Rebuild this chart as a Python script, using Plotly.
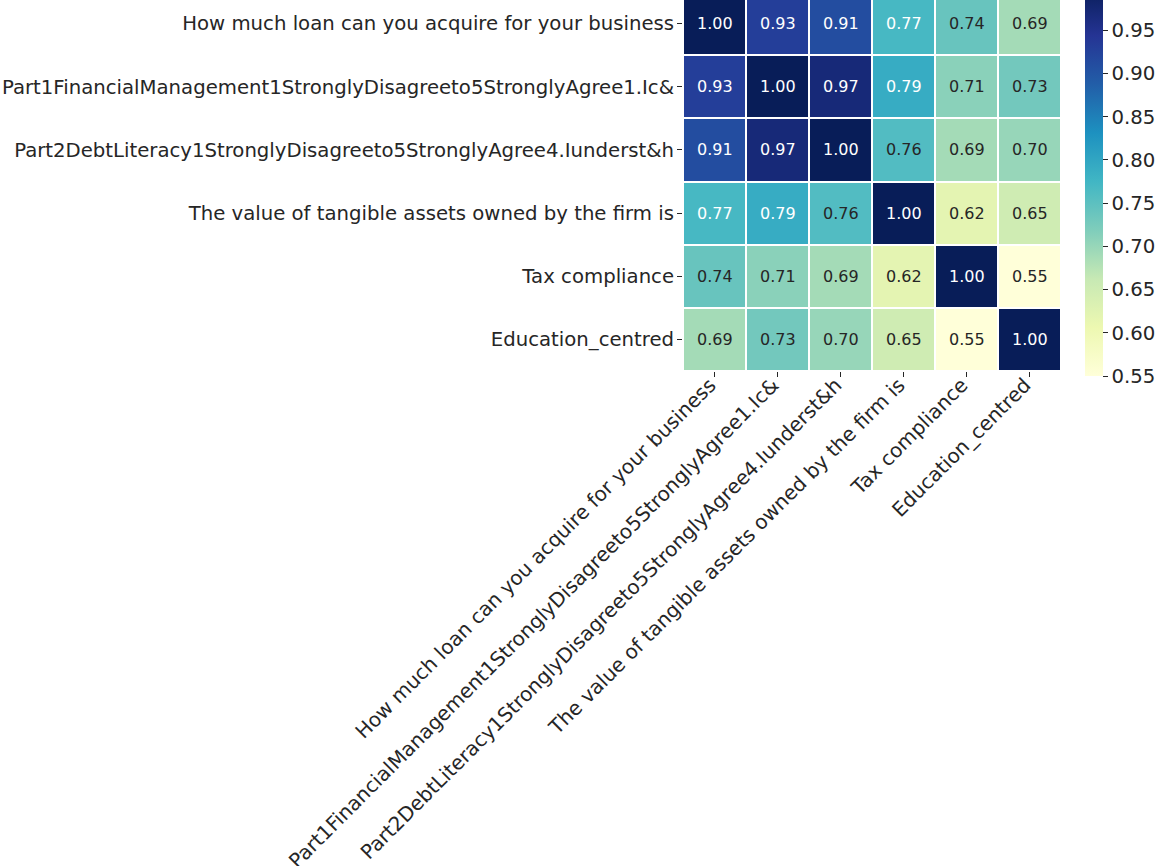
import plotly.graph_objects as go

# Variables in the correlation matrix (same order on both axes)
labels = [
    "How much loan can you acquire for your business",
    "Part1FinancialManagement1StronglyDisagreeto5StronglyAgree1.Ic&",
    "Part2DebtLiteracy1StronglyDisagreeto5StronglyAgree4.Iunderst&h",
    "The value of tangible assets owned by the firm is",
    "Tax compliance",
    "Education_centred",
]

# Pairwise correlation coefficients
corr = [
    [1.00, 0.93, 0.91, 0.77, 0.74, 0.69],
    [0.93, 1.00, 0.97, 0.79, 0.71, 0.73],
    [0.91, 0.97, 1.00, 0.76, 0.69, 0.70],
    [0.77, 0.79, 0.76, 1.00, 0.62, 0.65],
    [0.74, 0.71, 0.69, 0.62, 1.00, 0.55],
    [0.69, 0.73, 0.70, 0.65, 0.55, 1.00],
]

colorbar_ticks = [0.55, 0.60, 0.65, 0.70, 0.75, 0.80, 0.85, 0.90, 0.95]

# YlGnBu (ColorBrewer, 9 classes)
ylgnbu = ["#ffffd9", "#edf8b1", "#c7e9b4", "#7fcdbb", "#41b6c4",
          "#1d91c0", "#225ea8", "#253494", "#081d58"]
colorscale = [[i / (len(ylgnbu) - 1), c] for i, c in enumerate(ylgnbu)]

FONT = "DejaVu Sans"
DARK = "#262626"
LABEL_SIZE = 19.7

W, H = 1155, 866
left, right, top, bottom = 683, 94, 0, 495
plot_w = W - left - right
plot_h = H - top - bottom

fig = go.Figure(
    go.Heatmap(
        z=corr,
        x=labels,
        y=labels,
        zmin=0.55,
        zmax=1.0,
        colorscale=colorscale,
        xgap=2,
        ygap=2,
        colorbar=dict(
            thickness=18,
            lenmode="pixels",
            len=389,
            x=(1085 - left) / plot_w,
            xanchor="left",
            y=-5 / plot_h,
            yanchor="bottom",
            ypad=0,
            xpad=0,
            outlinewidth=0,
            tickmode="array",
            tickvals=colorbar_ticks,
            ticktext=[f"{v:.2f}" for v in colorbar_ticks],
            ticks="outside",
            ticklen=5,
            tickwidth=1,
            tickcolor=DARK,
            tickfont=dict(family=FONT, size=LABEL_SIZE, color=DARK),
        ),
        hoverinfo="skip",
    )
)

# Cell value labels: light text on dark cells
annotations = []
for i, row in enumerate(corr):
    for j, v in enumerate(row):
        annotations.append(
            dict(
                x=labels[j],
                y=labels[i],
                text=f"{v:.2f}",
                showarrow=False,
                font=dict(family=FONT, size=16,
                          color="white" if v >= 0.77 else DARK),
            )
        )

fig.update_layout(
    width=W,
    height=H,
    margin=dict(l=left, r=right, t=top, b=bottom, pad=0, autoexpand=False),
    paper_bgcolor="white",
    plot_bgcolor="white",
    annotations=annotations,
    font=dict(family=FONT, color=DARK),
)

fig.update_xaxes(
    type="category",
    automargin=False,
    range=[-0.5, 5.5],
    tickangle=-45,
    tickmode="array",
    tickvals=labels,
    ticktext=[lab + "\u00a0" for lab in labels],
    ticks="outside",
    ticklen=5,
    tickcolor=DARK,
    ticklabelstandoff=-16,
    tickfont=dict(family=FONT, size=20, color=DARK),
    showgrid=False,
    zeroline=False,
    showline=False,
)
fig.update_yaxes(
    type="category",
    automargin=False,
    range=[5.5, -0.373],
    ticks="outside",
    ticklen=5,
    tickcolor=DARK,
    ticklabelstandoff=-1,
    tickfont=dict(family=FONT, size=LABEL_SIZE, color=DARK),
    showgrid=False,
    zeroline=False,
    showline=False,
)

fig.write_html("out.html")
